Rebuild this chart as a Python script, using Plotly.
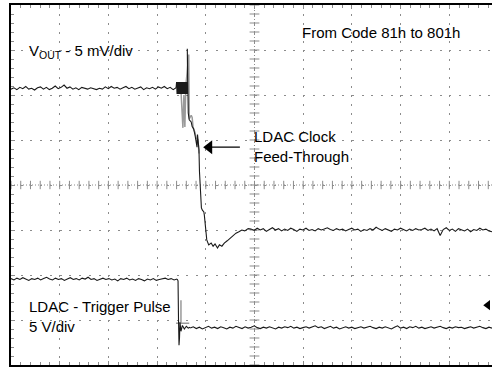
"""Scope capture: LDAC clock feed-through, code 81h -> 801h."""

import numpy as np
import plotly.graph_objects as go

# Screen units: x in time divisions (0..10), y in vertical divisions (-4..4, 0 = centre)
X_RANGE = [0, 9.877]
Y_RANGE = [-4, 4]

# V_OUT before the code change (div)
vout_pre_start, vout_pre_end = 0.0, 3.39
vout_pre = [
    2.13, 2.16, 2.12, 2.17, 2.14, 2.19, 2.13, 2.15, 2.11, 2.16,
    2.18, 2.13, 2.17, 2.12, 2.15, 2.20, 2.14, 2.17, 2.22, 2.15,
    2.18, 2.13, 2.16, 2.12, 2.17, 2.15, 2.13, 2.16, 2.14, 2.12,
    2.15, 2.13, 2.18, 2.14, 2.19, 2.15, 2.17, 2.13, 2.16, 2.19,
    2.14, 2.17, 2.13, 2.15, 2.18, 2.12, 2.16, 2.14, 2.17, 2.13,
    2.18, 2.15, 2.19, 2.14, 2.17, 2.12, 2.16,
]

# V_OUT transient (glitch burst, spike, clock feed-through, settling)
vout_step_x = [
    3.39, 3.40, 3.41, 3.42, 3.43, 3.44, 3.45, 3.46, 3.47, 3.48,
    3.49, 3.50, 3.51, 3.52, 3.53, 3.54, 3.55, 3.56, 3.57, 3.58,
    3.59, 3.60, 3.61, 3.62, 3.63, 3.62, 3.63, 3.64, 3.66, 3.70,
    3.72, 3.75, 3.78, 3.80, 3.82, 3.83, 3.85, 3.86, 3.87, 3.88,
    3.89, 3.91, 3.93, 3.96, 3.97, 3.99, 4.02, 4.06, 4.11, 4.15,
    4.19, 4.24, 4.28, 4.33, 4.38, 4.44, 4.50, 4.56, 4.62, 4.68,
    4.74, 4.80, 4.87, 4.93,
]
vout_step_y = [
    2.16, 2.29, 2.02, 2.29, 2.02, 2.29, 2.02, 2.29, 2.02, 2.29,
    2.02, 2.29, 2.02, 2.29, 2.02, 2.29, 2.02, 2.29, 2.02, 2.29,
    2.02, 2.29, 2.02, 2.29, 2.02, 3.03, 2.00, 1.60, 1.45, 1.40,
    1.30, 1.25, 1.10, 0.95, 0.84, 1.12, 0.90, 0.78, 0.30, 0.00,
    -0.33, -0.51, -0.56, -0.60, -0.67, -0.96, -1.22, -1.33, -1.29, -1.36,
    -1.31, -1.40, -1.33, -1.36, -1.29, -1.24, -1.18, -1.13, -1.07, -1.04,
    -1.00, -1.02, -0.97, -0.98,
]

# Overlaid earlier acquisitions of the transient (grey)
vout_ghost_x = [3.49, 3.53, 3.55, 3.57, 3.59, 3.65, 3.66, 3.70, 3.72, 3.74, 3.78, 3.80, 3.84, 3.86]
vout_ghost_y = [2.10, 1.27, 2.00, 1.29, 2.20, 2.90, 1.47, 1.55, 1.50, 1.27, 1.16, 1.05, 1.00, 0.70]

# V_OUT after settling (div)
vout_post_start, vout_post_end = 4.93, 9.877
vout_post = [
    -0.98, -1.01, -0.96, -1.00, -0.97, -1.03, -0.99, -0.95, -1.00, -0.97,
    -1.02, -0.98, -1.01, -0.96, -0.99, -1.03, -0.98, -1.00, -0.96, -1.01,
    -0.99, -1.02, -0.97, -1.00, -0.98, -0.95, -0.99, -1.01, -0.97, -1.00,
    -0.98, -1.02, -0.99, -0.96, -1.00, -0.98, -1.03, -0.99, -1.01, -0.97,
    -1.00, -0.94, -0.98, -1.01, -0.97, -1.00, -1.03, -0.98, -1.00, -0.96,
    -0.99, -1.02, -0.98, -1.01, -0.97, -1.00, -0.99, -0.96, -1.01, -0.98,
    -1.02, -0.97, -1.12, -0.99, -0.95, -1.01, -0.98, -1.03, -0.97, -1.00,
    -1.02, -0.98, -1.04, -0.99, -1.01, -0.96, -1.00, -0.98, -1.02, -1.04,
]

# LDAC trigger pulse (div)
trig_pre_start, trig_pre_end = 0.0, 3.41
trig_pre = [
    -2.08, -2.11, -2.07, -2.10, -2.06, -2.09, -2.12, -2.08, -2.10, -2.07,
    -2.11, -2.08, -2.05, -2.09, -2.11, -2.07, -2.10, -2.08, -2.12, -2.09,
    -2.06, -2.10, -2.08, -2.11, -2.07, -2.09, -2.05, -2.10, -2.08, -2.12,
    -2.09, -2.07, -2.10, -2.08, -2.11, -2.09, -2.13, -2.08, -2.10, -2.07,
    -2.11, -2.09, -2.12, -2.08, -2.10, -2.13, -2.09, -2.11, -2.08, -2.12,
    -2.10, -2.09, -2.07, -2.10, -2.08, -2.11, -2.09,
]
trig_edge_x = [3.41, 3.43, 3.44, 3.45, 3.46, 3.47, 3.49, 3.52, 3.56, 3.60, 3.64, 3.68]
trig_edge_y = [-2.09, -2.13, -3.00, -3.56, -3.40, -3.05, -3.25, -3.12, -3.20, -3.14, -3.18, -3.16]
trig_post_start, trig_post_end = 3.68, 9.877
trig_post = [
    -3.18, -3.15, -3.19, -3.16, -3.20, -3.17, -3.14, -3.18, -3.16, -3.19,
    -3.15, -3.17, -3.20, -3.16, -3.18, -3.14, -3.17, -3.19, -3.15, -3.18,
    -3.16, -3.13, -3.17, -3.19, -3.16, -3.18, -3.15, -3.17, -3.20, -3.16,
    -3.18, -3.15, -3.17, -3.14, -3.18, -3.16, -3.19, -3.17, -3.15, -3.18,
    -3.16, -3.13, -3.17, -3.15, -3.19, -3.16, -3.14, -3.18, -3.16, -3.20,
    -3.17, -3.15, -3.18, -3.16, -3.19, -3.17, -3.15, -3.18, -3.16, -3.14,
    -3.17, -3.19, -3.16, -3.18, -3.15, -3.17, -3.20, -3.16, -3.13, -3.18,
    -3.16, -3.19, -3.15, -3.17, -3.14, -3.18, -3.16, -3.19, -3.17, -3.15,
    -3.18, -3.16, -3.14, -3.17, -3.19, -3.16, -3.18, -3.15, -3.17, -3.16,
    -3.19, -3.17, -3.15, -3.18, -3.16, -3.14, -3.17, -3.19, -3.16, -3.18,
]

# Trigger crosshair and trigger-level marker
trig_cross_x = [3.49, 3.49, 3.39, 3.66]
trig_cross_y = [-2.56, -3.07, -3.07, -3.07]
trig_level_x, trig_level_y = 9.79, -2.67

# Callout arrow pointing at the clock feed-through
arrow_x = [4.70, 4.00]
arrow_y = [0.84, 0.84]
arrow_head_x, arrow_head_y = 4.07, 0.84

FONT = "Liberation Sans, Arial, sans-serif"
GRID = "#8c8c8c"
TRACE = "#1a1a1a"


def sampled(start: float, end: float, values: list[float]) -> np.ndarray:
    """Uniform sample times for a captured record."""
    return np.linspace(start, end, len(values))


def build_figure() -> go.Figure:
    fig = go.Figure()

    # centre graticule tick marks
    fig.add_trace(go.Scatter(
        x=np.arange(0, 9.9, 0.2), y=np.zeros(50), mode="markers",
        marker=dict(symbol="line-ns", size=6, line=dict(color=GRID, width=1)),
        hoverinfo="skip", showlegend=False,
    ))
    fig.add_trace(go.Scatter(
        x=np.full(41, 5.0), y=np.arange(-4, 4.01, 0.2), mode="markers",
        marker=dict(symbol="line-ew", size=7, line=dict(color=GRID, width=1)),
        hoverinfo="skip", showlegend=False,
    ))

    line = dict(color=TRACE, width=1.1)
    ghost = dict(color="#9a9a9a", width=1.5)

    fig.add_trace(go.Scatter(x=vout_ghost_x, y=vout_ghost_y, mode="lines", line=ghost))
    fig.add_trace(go.Scatter(x=sampled(vout_pre_start, vout_pre_end, vout_pre), y=vout_pre,
                             mode="lines", line=line))
    fig.add_trace(go.Scatter(x=vout_step_x, y=vout_step_y, mode="lines", line=line))
    fig.add_trace(go.Scatter(x=sampled(vout_post_start, vout_post_end, vout_post), y=vout_post,
                             mode="lines", line=line))

    fig.add_trace(go.Scatter(x=trig_cross_x, y=trig_cross_y, mode="lines", line=ghost))
    fig.add_trace(go.Scatter(x=sampled(trig_pre_start, trig_pre_end, trig_pre), y=trig_pre,
                             mode="lines", line=line))
    fig.add_trace(go.Scatter(x=trig_edge_x, y=trig_edge_y, mode="lines", line=line))
    fig.add_trace(go.Scatter(x=sampled(trig_post_start, trig_post_end, trig_post), y=trig_post,
                             mode="lines", line=line))
    fig.add_trace(go.Scatter(x=[trig_level_x], y=[trig_level_y], mode="markers",
                             marker=dict(symbol="triangle-left", size=9, color="black")))

    # callout arrow
    fig.add_trace(go.Scatter(x=arrow_x, y=arrow_y, mode="lines",
                             line=dict(color="black", width=1.3)))
    fig.add_trace(go.Scatter(x=[arrow_head_x], y=[arrow_head_y], mode="markers",
                             marker=dict(symbol="triangle-left", size=12, color="black")))

    # centre graticule lines
    fig.add_shape(type="line", x0=5, x1=5, y0=-4, y1=4,
                  line=dict(color=GRID, width=1, dash="1px,2px"), layer="below")
    fig.add_shape(type="line", x0=0, x1=X_RANGE[1], y0=0, y1=0,
                  line=dict(color=GRID, width=1, dash="1px,2px"), layer="below")

    text = dict(family=FONT, size=15, color="black")
    fig.add_annotation(x=0.33, y=2.96, text="V<sub>OUT</sub> - 5 mV/div", showarrow=False,
                       xanchor="left", yanchor="middle", font=text)
    fig.add_annotation(x=5.93, y=3.40, text="From Code 81h to 801h", showarrow=False,
                       xanchor="left", yanchor="middle", font=text)
    fig.add_annotation(x=4.95, y=0.86, text="LDAC Clock<br>Feed-Through", showarrow=False,
                       xanchor="left", yanchor="middle", align="left", font=text)
    fig.add_annotation(x=0.33, y=-2.93, text="LDAC - Trigger Pulse<br>5 V/div", showarrow=False,
                       xanchor="left", yanchor="middle", align="left", font=text)

    axis = dict(showticklabels=False, zeroline=False, showline=True, linecolor="black",
                linewidth=1.5, ticks="inside", tickcolor=GRID, ticklen=4,
                showgrid=True, gridcolor=GRID, gridwidth=1)
    fig.update_xaxes(**axis, range=X_RANGE, tick0=0, dtick=1, mirror="ticks",
                     griddash="2px,7px",
                     minor=dict(ticks="inside", dtick=0.2, ticklen=3, tickcolor=GRID, showgrid=False))
    fig.update_yaxes(**axis, range=Y_RANGE, tick0=0, dtick=1, mirror=False,
                     griddash="2px,7.74px",
                     minor=dict(ticks="inside", dtick=0.2, ticklen=3, tickcolor=GRID, showgrid=False))

    fig.update_layout(
        width=492, height=367,
        margin=dict(l=11, r=0, t=5, b=2),
        plot_bgcolor="white", paper_bgcolor="white",
        showlegend=False,
    )
    return fig


if __name__ == "__main__":
    # drop the browser's default body margin so the 492x367 figure fills the window
    build_figure().write_html(
        "out.html",
        config={"displayModeBar": False},
        post_script="document.body.style.margin = '0';",
    )
